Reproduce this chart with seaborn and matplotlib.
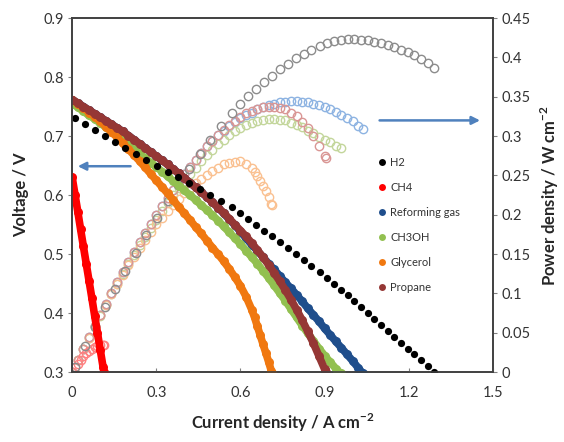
import matplotlib
matplotlib.use('Agg')
import matplotlib.pyplot as plt
from matplotlib.lines import Line2D
import seaborn as sns

# ---- data (current density in A cm-2) ----
h2_i = [0.010, 0.046, 0.082, 0.118, 0.153, 0.189, 0.226, 0.264, 0.302, 0.340, 0.378,
        0.416, 0.454, 0.492, 0.530, 0.568, 0.599, 0.627, 0.655, 0.684, 0.712, 0.740,
        0.768, 0.797, 0.825, 0.853, 0.882, 0.910, 0.935, 0.959, 0.983, 1.006, 1.030,
        1.054, 1.077, 1.101, 1.125, 1.148, 1.172, 1.196, 1.220, 1.243, 1.267, 1.291]
h2_v = [0.730, 0.720, 0.710, 0.700, 0.690, 0.680, 0.670, 0.660, 0.650, 0.640, 0.630,
        0.620, 0.610, 0.600, 0.590, 0.580, 0.570, 0.560, 0.550, 0.540, 0.530, 0.520,
        0.510, 0.500, 0.490, 0.480, 0.470, 0.460, 0.450, 0.440, 0.430, 0.420, 0.410,
        0.400, 0.390, 0.380, 0.370, 0.360, 0.350, 0.340, 0.330, 0.320, 0.310, 0.300]
h2_p = [0.007, 0.033, 0.058, 0.083, 0.106, 0.129, 0.151, 0.174, 0.196, 0.218, 0.238,
        0.258, 0.277, 0.295, 0.313, 0.329, 0.341, 0.351, 0.360, 0.369, 0.377, 0.385,
        0.392, 0.399, 0.404, 0.409, 0.415, 0.419, 0.421, 0.422, 0.423, 0.423, 0.422,
        0.422, 0.420, 0.418, 0.416, 0.413, 0.410, 0.407, 0.403, 0.398, 0.393, 0.387]

ch4_i = [0.00, 0.01, 0.02, 0.03, 0.04, 0.05, 0.06, 0.07, 0.08, 0.09, 0.10, 0.11, 0.113]
ch4_v = [0.630, 0.601, 0.572, 0.542, 0.513, 0.484, 0.455, 0.426, 0.396, 0.367, 0.338, 0.309, 0.300]
ch4_p = [0.000, 0.006, 0.011, 0.016, 0.021, 0.024, 0.027, 0.030, 0.032, 0.033, 0.034, 0.034, 0.034]

ref_i = [0.00, 0.02, 0.04, 0.06, 0.08, 0.10, 0.12, 0.14, 0.16, 0.18, 0.20, 0.22, 0.24,
         0.26, 0.28, 0.30, 0.32, 0.34, 0.36, 0.38, 0.40, 0.42, 0.44, 0.46, 0.48, 0.50,
         0.52, 0.54, 0.56, 0.58, 0.60, 0.62, 0.64, 0.66, 0.68, 0.70, 0.72, 0.74, 0.76,
         0.78, 0.80, 0.82, 0.84, 0.86, 0.88, 0.90, 0.92, 0.94, 0.96, 0.98, 1.00, 1.02, 1.036]
ref_v = [0.762, 0.756, 0.750, 0.744, 0.738, 0.732, 0.726, 0.720, 0.714, 0.708, 0.701, 0.694, 0.687,
         0.680, 0.673, 0.666, 0.659, 0.652, 0.644, 0.637, 0.629, 0.621, 0.613, 0.605, 0.597, 0.588,
         0.579, 0.569, 0.559, 0.549, 0.538, 0.527, 0.516, 0.506, 0.495, 0.484, 0.474, 0.463, 0.452,
         0.442, 0.431, 0.420, 0.408, 0.397, 0.386, 0.374, 0.363, 0.352, 0.341, 0.330, 0.319, 0.307, 0.298]
ref_p = [0.000, 0.015, 0.030, 0.045, 0.059, 0.073, 0.087, 0.101, 0.114, 0.127, 0.140, 0.153, 0.165,
         0.177, 0.188, 0.200, 0.211, 0.222, 0.232, 0.242, 0.252, 0.261, 0.270, 0.278, 0.287, 0.294,
         0.301, 0.307, 0.313, 0.318, 0.323, 0.327, 0.330, 0.334, 0.337, 0.339, 0.341, 0.343, 0.344,
         0.345, 0.345, 0.344, 0.343, 0.341, 0.340, 0.337, 0.334, 0.331, 0.327, 0.323, 0.319, 0.313, 0.309]

meoh_i = [0.00, 0.02, 0.04, 0.06, 0.08, 0.10, 0.12, 0.14, 0.16, 0.18, 0.20, 0.22, 0.24,
          0.26, 0.28, 0.30, 0.32, 0.34, 0.36, 0.38, 0.40, 0.42, 0.44, 0.46, 0.48, 0.50,
          0.52, 0.54, 0.56, 0.58, 0.60, 0.62, 0.64, 0.66, 0.68, 0.70, 0.72, 0.74, 0.76,
          0.78, 0.80, 0.82, 0.84, 0.86, 0.88, 0.90, 0.92, 0.94, 0.957]
meoh_v = [0.755, 0.749, 0.742, 0.735, 0.729, 0.722, 0.715, 0.708, 0.701, 0.694, 0.686, 0.679, 0.671,
          0.663, 0.655, 0.648, 0.640, 0.632, 0.624, 0.616, 0.608, 0.600, 0.592, 0.583, 0.575, 0.566,
          0.557, 0.547, 0.537, 0.527, 0.517, 0.506, 0.495, 0.484, 0.472, 0.460, 0.447, 0.434, 0.421,
          0.407, 0.393, 0.379, 0.366, 0.353, 0.340, 0.328, 0.317, 0.306, 0.298]
meoh_p = [0.000, 0.015, 0.030, 0.044, 0.058, 0.072, 0.086, 0.099, 0.112, 0.125, 0.137, 0.149, 0.161,
          0.172, 0.183, 0.194, 0.205, 0.215, 0.225, 0.234, 0.243, 0.252, 0.260, 0.268, 0.276, 0.283,
          0.290, 0.295, 0.301, 0.306, 0.310, 0.314, 0.317, 0.319, 0.321, 0.322, 0.322, 0.321, 0.320,
          0.317, 0.314, 0.311, 0.307, 0.304, 0.299, 0.295, 0.292, 0.288, 0.285]

gly_i = [0.00, 0.02, 0.04, 0.06, 0.08, 0.10, 0.12, 0.14, 0.16, 0.18, 0.20, 0.22, 0.24,
         0.26, 0.28, 0.30, 0.32, 0.34, 0.36, 0.38, 0.40, 0.42, 0.44, 0.46, 0.48, 0.50,
         0.52, 0.54, 0.56, 0.58, 0.60, 0.62, 0.64, 0.65, 0.66, 0.67, 0.68, 0.69, 0.70, 0.71, 0.713]
gly_v = [0.762, 0.755, 0.748, 0.740, 0.733, 0.725, 0.716, 0.707, 0.698, 0.688, 0.678, 0.668, 0.658,
         0.647, 0.636, 0.625, 0.614, 0.603, 0.592, 0.580, 0.569, 0.558, 0.546, 0.535, 0.523, 0.511,
         0.500, 0.488, 0.475, 0.461, 0.446, 0.428, 0.406, 0.393, 0.378, 0.363, 0.348, 0.333, 0.318, 0.302, 0.298]
gly_p = [0.000, 0.015, 0.030, 0.044, 0.059, 0.073, 0.086, 0.099, 0.112, 0.124, 0.136, 0.147, 0.158,
         0.168, 0.178, 0.188, 0.196, 0.205, 0.213, 0.220, 0.228, 0.234, 0.240, 0.246, 0.251, 0.256,
         0.260, 0.264, 0.266, 0.267, 0.268, 0.265, 0.260, 0.255, 0.249, 0.243, 0.237, 0.230, 0.223, 0.214, 0.212]

prop_i = [0.00, 0.02, 0.04, 0.06, 0.08, 0.10, 0.12, 0.14, 0.16, 0.18, 0.20, 0.22, 0.24,
          0.26, 0.28, 0.30, 0.32, 0.34, 0.36, 0.38, 0.40, 0.42, 0.44, 0.46, 0.48, 0.50,
          0.52, 0.54, 0.56, 0.58, 0.60, 0.62, 0.64, 0.66, 0.68, 0.70, 0.72, 0.74, 0.76,
          0.78, 0.80, 0.82, 0.84, 0.86, 0.88, 0.90, 0.905]
prop_v = [0.762, 0.756, 0.750, 0.744, 0.738, 0.732, 0.726, 0.720, 0.714, 0.708, 0.701, 0.694, 0.687,
          0.680, 0.673, 0.666, 0.659, 0.652, 0.644, 0.637, 0.629, 0.621, 0.613, 0.605, 0.597, 0.588,
          0.579, 0.570, 0.560, 0.550, 0.540, 0.530, 0.519, 0.507, 0.495, 0.482, 0.468, 0.454, 0.439,
          0.423, 0.406, 0.388, 0.369, 0.349, 0.327, 0.305, 0.300]
prop_p = [0.000, 0.015, 0.030, 0.045, 0.059, 0.073, 0.087, 0.101, 0.114, 0.127, 0.140, 0.153, 0.165,
          0.177, 0.188, 0.200, 0.211, 0.222, 0.232, 0.242, 0.252, 0.261, 0.270, 0.278, 0.287, 0.294,
          0.301, 0.308, 0.314, 0.319, 0.324, 0.329, 0.332, 0.335, 0.337, 0.337, 0.337, 0.336, 0.334,
          0.330, 0.325, 0.318, 0.310, 0.300, 0.288, 0.275, 0.272]

fuel_names = ['H2', 'CH4', 'Reforming gas', 'CH3OH', 'Glycerol', 'Propane']
x_ticks = [0, 0.3, 0.6, 0.9, 1.2, 1.5]
x_tick_labels = ['0', '0.3', '0.6', '0.9', '1.2', '1.5']
v_ticks = [0.3, 0.4, 0.5, 0.6, 0.7, 0.8, 0.9]
v_tick_labels = ['0.3', '0.4', '0.5', '0.6', '0.7', '0.8', '0.9']
p_ticks = [0, 0.05, 0.1, 0.15, 0.2, 0.25, 0.3, 0.35, 0.4, 0.45]
p_tick_labels = ['0', '0.05', '0.1', '0.15', '0.2', '0.25', '0.3', '0.35', '0.4', '0.45']

# dark colour = voltage (filled), light colour = power (open)
dark = {'H2': '#000000', 'CH4': '#ff0000', 'Reforming gas': '#1f4e8c',
        'CH3OH': '#92c050', 'Glycerol': '#f07810', 'Propane': '#953735'}
light = {'H2': '#8c8c8c', 'CH4': '#ff8080', 'Reforming gas': '#8db3e2',
         'CH3OH': '#c3d69b', 'Glycerol': '#fac090', 'Propane': '#d99694'}

series = {
    'H2': (h2_i, h2_v, h2_p),
    'CH4': (ch4_i, ch4_v, ch4_p),
    'Reforming gas': (ref_i, ref_v, ref_p),
    'CH3OH': (meoh_i, meoh_v, meoh_p),
    'Glycerol': (gly_i, gly_v, gly_p),
    'Propane': (prop_i, prop_v, prop_p),
}

sns.set_theme(style='white')
plt.rcParams['font.family'] = ['Lato', 'DejaVu Sans']
plt.rcParams['mathtext.fontset'] = 'custom'
plt.rcParams['mathtext.rm'] = 'Lato'
plt.rcParams['mathtext.bf'] = 'Lato:bold'

fig = plt.figure(figsize=(5.64, 4.42), dpi=100)
ax = fig.add_axes([0.128, 0.158, 0.746, 0.801])
ax2 = ax.twinx()

# power density curves (open circles, right axis)
for name in ['Reforming gas', 'CH3OH', 'Glycerol', 'Propane', 'CH4', 'H2']:
    i, v, p = series[name]
    sns.lineplot(x=i, y=p, ax=ax2, sort=False, estimator=None, linestyle='none',
                 marker='o', markersize=6, markerfacecolor='none',
                 markeredgecolor=light[name], markeredgewidth=1.0, color=light[name])

# voltage curves (filled, left axis)
for name in ['Reforming gas', 'CH3OH', 'Glycerol', 'Propane', 'CH4']:
    i, v, p = series[name]
    sns.lineplot(x=i, y=v, ax=ax, sort=False, estimator=None, color=dark[name],
                 linewidth=5.5, marker='o', markersize=6.5, markeredgewidth=0,
                 solid_capstyle='round')
sns.lineplot(x=h2_i, y=h2_v, ax=ax, sort=False, estimator=None, linestyle='none',
             marker='o', markersize=5.2, markeredgewidth=0, color=dark['H2'])

ax.set_zorder(2)
ax.patch.set_visible(False)
ax2.set_zorder(1)

ax.set_xlim(0, 1.5)
ax.set_ylim(0.3, 0.9)
ax2.set_ylim(0, 0.45)
ax.set_xticks(x_ticks, x_tick_labels)
ax.set_yticks(v_ticks, v_tick_labels)
ax2.set_yticks(p_ticks, p_tick_labels)

for a in (ax, ax2):
    for s in a.spines.values():
        s.set_color('#404040')
        s.set_linewidth(1.2)
ax.tick_params(axis='y', direction='out', length=3, width=0.8, color='#808080',
               labelsize=10.5, labelcolor='#333333', pad=3, left=True)
ax.tick_params(axis='x', direction='in', length=3, width=0.8, color='#808080',
               labelsize=10.5, labelcolor='#333333', pad=10, bottom=True)
ax2.tick_params(axis='y', direction='out', length=3, width=0.8, color='#808080',
                labelsize=10.5, labelcolor='#333333', pad=3, right=True)

ax.set_xlabel(r'Current density / A cm$^{\mathbf{-2}}$', fontsize=12, fontweight='bold',
              color='#262626', labelpad=8)
ax.set_ylabel('Voltage / V', fontsize=12, fontweight='bold', color='#262626', labelpad=10)
ax2.set_ylabel(r'Power density / W cm$^{\mathbf{-2}}$', fontsize=12, fontweight='bold',
               color='#262626', labelpad=6)

# arrows pointing to the matching axes
ax.annotate('', xy=(0.01, 0.649), xytext=(0.218, 0.649),
            arrowprops=dict(arrowstyle='-|>', color='#4f81bd', lw=1.8, mutation_scale=12))
ax2.annotate('', xy=(1.464, 0.32), xytext=(1.086, 0.32),
             arrowprops=dict(arrowstyle='-|>', color='#4f81bd', lw=1.8, mutation_scale=12))

handles = [Line2D([], [], linestyle='none', marker='o', markersize=5,
                  markeredgewidth=0, color=dark[n]) for n in fuel_names]
ax.legend(handles, fuel_names, loc='upper left', bbox_to_anchor=(0.719, 0.62),
          frameon=False, fontsize=8, labelspacing=1.25, handlelength=0.6,
          handletextpad=0.4, borderaxespad=0, labelcolor='#333333')

fig.savefig('out.png', dpi=100)
